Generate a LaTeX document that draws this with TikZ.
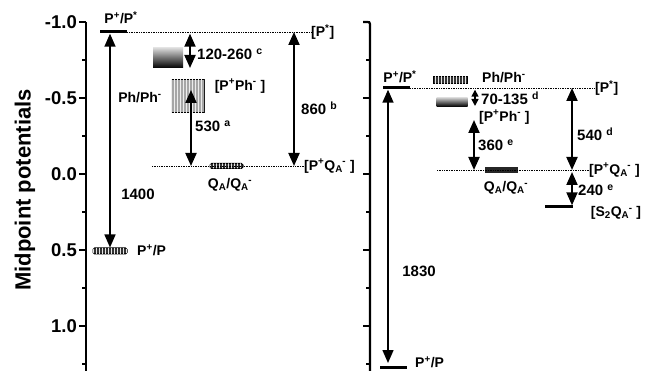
\documentclass[tikz,border=0pt]{standalone}
\usepackage{fontspec}
\setmainfont{Liberation Sans}
\usetikzlibrary{arrows.meta,positioning,patterns}
\newcommand{\sps}[1]{\textsuperscript{#1}}
\newcommand{\qa}{Q\textsubscript{A}}
\newcommand{\qam}{Q\textsubscript{A}\kern-0.5pt\textsuperscript{-}}
\begin{document}
\begin{tikzpicture}[
    x=1pt, y=-1pt,
    lab/.style={inner sep=0pt, font=\fontsize{14}{16}\selectfont\bfseries},
    num/.style={inner sep=0pt, font=\fontsize{15}{17}\selectfont\bfseries},
    ticklab/.style={inner sep=0pt, anchor=east, font=\fontsize{18.5}{20}\selectfont\bfseries},
    axisline/.style={line width=2.2pt},
    bar/.style={inner sep=0pt, minimum height=3pt, fill=black},
    hbar/.style={
        inner sep=0pt,
        minimum height=6pt,
        draw=black,
        line width=1pt,
        rounded corners=1.5pt,
        fill=black!80,
        postaction={pattern=vertical lines, pattern color=white!80!gray}
    },
    shbox/.style={inner sep=0pt, top color=gray!30, bottom color=black},
    stbox/.style={
        inner sep=0pt,
        draw=black,
        line width=1pt,
        fill=gray!70,
        postaction={pattern=vertical lines, pattern color=white!85!gray}
    },
    dots/.style={densely dotted, line width=0.7pt},
    dbl/.style={line width=2pt, {Triangle[width=11pt,length=13pt]}-{Triangle[width=11pt,length=13pt]}},
    sdbl/.style={line width=1.5pt, {Triangle[width=7pt,length=7pt]}-{Triangle[width=7pt,length=7pt]}}
]
\useasboundingbox (0,0) rectangle (645,371);

% axes
\node[rotate=90, inner sep=0pt, font=\fontsize{22}{24}\selectfont\bfseries] (ytitle) at (25,190) {Midpoint potentials};
\draw[axisline] (86,22) -- (86,371);
\draw[axisline, rounded corners=2pt] (363,22) -- (370,22) -- (370,371);
\foreach \v/\t [count=\i] in {-1.0/-1.0,-0.5/-0.5,0.0/0.0,0.5/0.5,1.0/1.0} {
    \pgfmathsetmacro\yy{174+152*\v}
    \draw[line width=1.6pt] (79,\yy) -- (86,\yy);
    \draw[line width=1.6pt] (363,\yy) -- (370,\yy);
    \node[ticklab] (yl\i) at (77,\yy) {\t};
}
\foreach \v in {-0.75,-0.25,0.25,0.75,1.25} {
    \pgfmathsetmacro\yy{174+152*\v}
    \draw[line width=1.2pt] (82,\yy) -- (86,\yy);
    \draw[line width=1.2pt] (366,\yy) -- (370,\yy);
}

% left panel
\node[bar, minimum width=27pt] (pstarL) at (113.5,32) {};
\node[lab] (tpstarL) at (121,18) {P\sps{+}/P\sps{*}};
\node[lab, anchor=west] (lvPstarL) at (311,32) {[P\sps{*}]};
\draw[dots] (pstarL.east) -- (lvPstarL.west);

\node[hbar, minimum width=34pt] (ppL) at (110,251) {};
\node[lab, anchor=west] (tppL) at (137,250) {P\sps{+}/P};
\draw[dbl, line width=1.5pt] (ppL.north |- pstarL.south) -- (ppL.north);
\node[num] (n1400) at (138,194) {1400};

\node[shbox, minimum width=30pt, minimum height=20pt] (gradL) at (168,58) {};
\coordinate (c120) at (190,68);
\draw[dbl] (c120 |- pstarL.south) -- (c120);
\node[num, anchor=west] (n120) at (197,54) {120-260 \sps{c}};

\node[stbox, minimum width=33pt, minimum height=33pt] (phL) at (187.5,96.5) {};
\node[lab] (tphL) at (140,98) {Ph/Ph\sps{-}};
\node[lab] (lvPhL) at (240,86) {[P\sps{+}Ph\sps{-} ]};

\coordinate (dqL) at (152,166);
\node[hbar, minimum width=33pt, minimum height=5pt] (qaL) at (226.5,166) {};
\node[lab] (tqaL) at (230,185) {\qa/\qam};
\node[lab, anchor=west] (lvQaL) at (304,166) {[P\sps{+}\qam\ ]};
\draw[dots] (dqL) -- (lvQaL.west);

\coordinate (c530) at (191,90);
\draw[dbl] (c530) -- (c530 |- dqL);
\node[num, anchor=west] (n530) at (195,126) {530 \sps{a}};

\coordinate (c860) at (294,32);
\draw[dbl] (c860) -- (c860 |- dqL);
\node[num, anchor=west] (n860) at (301,108) {860 \sps{b}};

% right panel
\node[bar, minimum width=27pt] (pstarR) at (396.5,88) {};
\node[lab] (tpstarR) at (400,77) {P\sps{+}/P\sps{*}};
\node[lab, anchor=west] (lvPstarR) at (595,88) {[P\sps{*}]};
\draw[dots] (pstarR.east) -- (lvPstarR.west);

\node[bar, minimum width=27pt] (ppR) at (393.5,367) {};
\node[lab, anchor=west] (tppR) at (415,362) {P\sps{+}/P};
\coordinate (c1830) at (388,363);
\draw[dbl, line width=1.5pt] (c1830 |- pstarR.south) -- (c1830);
\node[num] (n1830) at (419,271) {1830};

\node[hbar, rounded corners=0pt, minimum width=34pt, minimum height=7pt] (phR) at (450,80) {};
\node[lab, anchor=west] (tphR) at (482,78) {Ph/Ph\sps{-}};

\node[shbox, minimum width=31pt, minimum height=9pt, top color=gray!35] (gradR) at (452,102) {};
\coordinate (c70) at (475,106);
\draw[sdbl] (c70 |- pstarR.south) -- (c70);
\node[num, anchor=west] (n70) at (481,98) {70-135 \sps{d}};

\node[lab, anchor=west] (lvPhR) at (479,117) {[P\sps{+}Ph\sps{-} ]};

\coordinate (dqR) at (437,170);
\node[inner sep=0pt, minimum width=33pt, minimum height=6pt, fill=black!85] (qaR) at (501.5,170) {};
\node[lab] (tqaR) at (506,188) {\qa/\qam};
\node[lab, anchor=west] (lvQaR) at (589,170) {[P\sps{+}\qam\ ]};
\draw[dots] (dqR) -- (lvQaR.west);

\coordinate (c360) at (474,120);
\draw[dbl] (c360) -- (c360 |- dqR);
\node[num, anchor=west] (n360) at (478,145) {360 \sps{e}};

\coordinate (c540) at (572,88);
\draw[dbl] (c540) -- (c540 |- dqR);
\node[num, anchor=west] (n540) at (577,134) {540 \sps{d}};

\node[bar, minimum width=28pt] (s2R) at (559,207) {};
\coordinate (c240) at (572,172);
\draw[dbl] (c240) -- (c240 |- s2R.north);
\node[num, anchor=west] (n240) at (578,190) {240 \sps{e}};
\node[lab] (lvS2R) at (616,213) {[S\textsubscript{2}\qam\ ]};

\end{tikzpicture}
\end{document}
